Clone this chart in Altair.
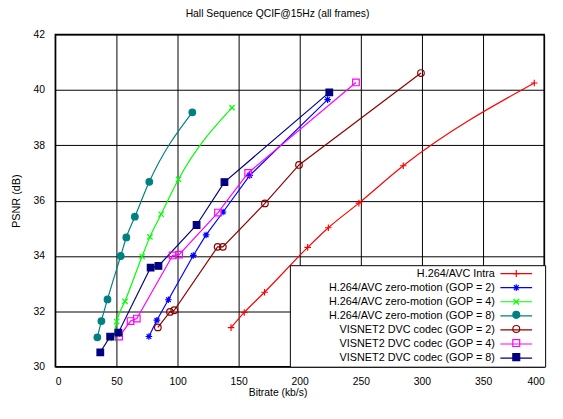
import altair as alt
import pandas as pd

series = [
    "H.264/AVC Intra",
    "H.264/AVC zero-motion (GOP = 2)",
    "H.264/AVC zero-motion (GOP = 4)",
    "H.264/AVC zero-motion (GOP = 8)",
    "VISNET2 DVC codec (GOP = 2)",
    "VISNET2 DVC codec (GOP = 4)",
    "VISNET2 DVC codec (GOP = 8)",
]
colors = ["#ff0000", "#0000ff", "#00ff00", "#008080", "#8b0000", "#ff00ff", "#000080"]
shapes = [
    "M-1,0L1,0M0,-1L0,1",
    "M-1,0L1,0M0,-1L0,1M-0.7,-0.7L0.7,0.7M-0.7,0.7L0.7,-0.7",
    "M-0.8,-0.8L0.8,0.8M-0.8,0.8L0.8,-0.8",
    "circle",
    "circle",
    "square",
    "square",
]
fills = ["transparent", "transparent", "transparent", "#008080", "transparent", "transparent", "#000080"]
smooth_series = [series[0], series[2], series[3]]

intra_x = [143.8, 154.6, 171.2, 206.5, 223.4, 248.4, 284.7, 391.9]
intra_y = [31.41, 31.96, 32.69, 34.31, 35.02, 35.91, 37.26, 40.25]
h2_x = [76.6, 83.1, 92.5, 112.9, 123.4, 137.3, 159.1, 222.8]
h2_y = [31.09, 31.68, 32.42, 34.02, 34.76, 35.59, 36.91, 39.65]
h4_x = [47.5, 50.2, 57.0, 71.0, 77.4, 86.6, 100.8, 144.6]
h4_y = [31.02, 31.63, 32.36, 33.98, 34.69, 35.51, 36.77, 39.36]
h8_x = [34.4, 37.7, 42.7, 53.5, 58.1, 65.1, 76.9, 112.1]
h8_y = [31.06, 31.65, 32.43, 34.00, 34.67, 35.42, 36.68, 39.19]
v2_x = [83.9, 93.8, 97.3, 132.8, 137.1, 171.5, 199.4, 299.2]
v2_y = [31.42, 31.98, 32.04, 34.33, 34.33, 35.90, 37.29, 40.61]
v4_x = [52.2, 61.6, 66.7, 96.0, 101.3, 133.1, 157.8, 246.0]
v4_y = [31.09, 31.65, 31.74, 34.02, 34.05, 35.57, 37.00, 40.27]
v8_x = [36.8, 44.9, 51.6, 78.0, 84.4, 115.6, 138.4, 224.2]
v8_y = [30.52, 31.09, 31.23, 33.58, 33.64, 35.12, 36.67, 39.91]

xs_all = [intra_x, h2_x, h4_x, h8_x, v2_x, v4_x, v8_x]
ys_all = [intra_y, h2_y, h4_y, h8_y, v2_y, v4_y, v8_y]

rows = []
for name, xs, ys in zip(series, xs_all, ys_all):
    for i, (x, y) in enumerate(zip(xs, ys)):
        rows.append({"series": name, "bitrate": x, "psnr": y, "order": i})
df = pd.DataFrame(rows)

FONT = "Liberation Sans"
SYM = 49
LX, LY = 238, 234
SYM_OFF = 221.2
LAB_OFF = {"expr": "-27.2"}

line_legend = alt.Legend(
    title=None, orient="none", legendX=LX, legendY=LY,
    symbolType="M-4.6,0L4.6,0M6.8,0L6.8,0", symbolSize=SYM, symbolStrokeWidth=1.2,
    symbolOffset=SYM_OFF, labelAlign="right", labelOffset=LAB_OFF,
    labelFont=FONT, labelFontSize=11, labelColor="black", labelLimit=400,
    padding=3, rowPadding=2.3, fillColor="white", strokeColor="black",
    zindex=1,
)
point_legend = alt.Legend(
    title=None, orient="none", legendX=LX, legendY=LY,
    symbolSize=SYM, symbolStrokeWidth=1.2,
    symbolOffset=SYM_OFF, labelAlign="right", labelOffset=LAB_OFF,
    labelFont=FONT, labelFontSize=11, labelOpacity=0, labelLimit=400,
    padding=3, rowPadding=1.3,
    zindex=2,
)

x_enc = alt.X(
    "bitrate:Q",
    scale=alt.Scale(domain=[0, 400], nice=False),
    axis=alt.Axis(values=[0, 50, 100, 150, 200, 250, 300, 350, 400],
                  title="Bitrate (kb/s)", titleX=225.5, titleY=21,
                  titleBaseline="top", labelPadding=10),
)
y_enc = alt.Y(
    "psnr:Q",
    scale=alt.Scale(domain=[30, 42], nice=False),
    axis=alt.Axis(values=[30, 32, 34, 36, 38, 40, 42], title="PSNR (dB)",
                  labelPadding=11, titlePadding=12, titleFontSize=11),
)

base = alt.Chart(df).encode(x=x_enc, y=y_enc, order="order:Q")

color_enc = alt.Color("series:N", scale=alt.Scale(range=colors), legend=line_legend)

smooth_lines = base.transform_filter(
    alt.FieldOneOfPredicate(field="series", oneOf=smooth_series)
).mark_line(interpolate="monotone", strokeWidth=1.2).encode(color=color_enc)

straight_lines = base.transform_filter(
    ~alt.FieldOneOfPredicate(field="series", oneOf=smooth_series)
).mark_line(strokeWidth=1.2).encode(color=color_enc)

points = base.mark_point(filled=False, size=45, strokeWidth=1.2, opacity=1).encode(
    shape=alt.Shape("series:N", scale=alt.Scale(domain=series, range=shapes), legend=point_legend),
    stroke=alt.Stroke("series:N", scale=alt.Scale(domain=series, range=colors), legend=point_legend),
    fill=alt.Fill("series:N", scale=alt.Scale(domain=series, range=fills), legend=point_legend),
)

chart = (
    alt.layer(smooth_lines, straight_lines, points)
    .properties(
        width=496, height=337,
        autosize=alt.AutoSizeParams(type="none"),
        padding={"left": 48, "top": 24, "right": 11, "bottom": 42},
        title=alt.TitleParams("Hall Sequence QCIF@15Hz (all frames)", font=FONT,
                              fontSize=10.5, fontWeight="normal", color="black",
                              anchor="middle", frame="group", dx=-22.5, offset=10),
    )
    .configure_view(stroke="black", strokeWidth=1.5)
    .configure_axis(
        grid=True, gridColor="black", gridWidth=1, gridOpacity=1,
        domain=False, ticks=False,
        labelFont=FONT, labelFontSize=10.5, labelColor="black",
        titleFont=FONT, titleFontSize=10.5, titleFontWeight="normal", titleColor="black",
    )
)

chart.save("out.html", embed_options={"renderer": "svg", "actions": False})
